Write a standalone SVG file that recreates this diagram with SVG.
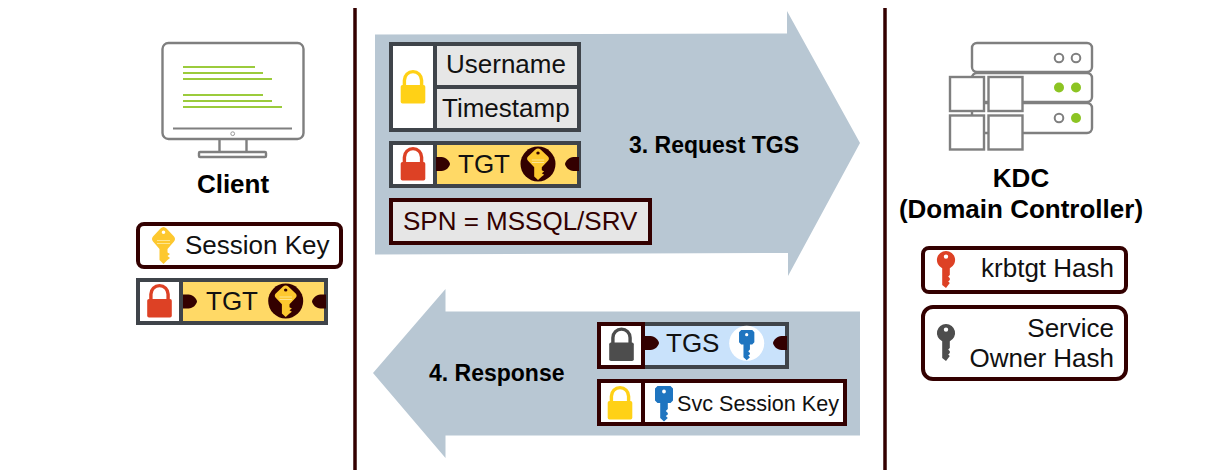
<svg xmlns="http://www.w3.org/2000/svg" width="1218" height="474" viewBox="0 0 1218 474">
<style>
text{font-family:"Liberation Sans",Arial,sans-serif;font-size:26px;fill:#111}
.b{font-weight:bold;fill:#000}
.h{font-size:23px}
.dark{fill:#330000}
.divider{stroke:#330000;stroke-width:3.5;fill:none}
.arrow{fill:#b8c7d3}
.icon{fill:#fff;stroke:#7f7f7f;stroke-width:2.4}
.thin{fill:none;stroke:#7f7f7f;stroke-width:2}
.green{stroke:#9bcb3c;stroke-width:1.8}
.gb{stroke:#3f444a;stroke-width:4}
.db{stroke:#330000;stroke-width:4}
.open{fill:none}
</style>
<defs>
<!-- padlock: origin at the top centre of the shackle -->
<g id="lock">
<path d="M-8.600 17V10.200a8.600 8.600 0 0 1 17.200 0V17" fill="none" stroke="currentColor" stroke-width="3.400"/>
<rect x="-12.300" y="15" width="24.600" height="18.600" rx="1.800" fill="currentColor"/>
</g>
<!-- round-headed key: origin at the top centre of the head -->
<path id="keyRound" d="M0 0a9 9 0 0 1 3.800 17.200V24l-1.600 1.600 1.600 1.600v1.800l-1.600 1.400 1.600 1.600-3.800 5-3.800-3V17.200A9 9 0 0 1 0 0zM0 3.400a2.200 2.200 0 1 0 0 4.400 2.200 2.200 0 0 0 0-4.400z" fill="currentColor" fill-rule="evenodd"/>
<!-- diamond-headed key -->
<g id="keyDiamond">
<path d="M0 0Q1.500 0 3 1.500L10.500 9.500Q12.500 12 10.500 14.500L4 22V25.500L6.500 27 4 29 6.500 31 4 33 0 37-4 33V22L-10.500 14.500Q-12.500 12-10.500 9.500L-3 1.500Q-1.500 0 0 0zM0 3.500a1.800 1.800 0 1 0 0 3.600 1.800 1.800 0 0 0 0-3.600z" fill="#fdc82f" fill-rule="evenodd"/>
<path d="M-6.500 13.500H6.500M-6.500 16.500H6.500" stroke="#fee58f" stroke-width="1.200"/>
</g>
<!-- square-headed key -->
<path id="keySquare" d="M-6.500 0H6.500L9 2.500V14.500L6.500 17H3.800V23L1.800 25 3.800 27V28.500L1.800 30 3.800 32 0 35.500-3.800 32V17H-6.500L-9 14.500V2.500zM0 3.600a1.900 1.900 0 1 0 0 3.800 1.900 1.900 0 0 0 0-3.800z" fill="#1f75c0" fill-rule="evenodd"/>
<!-- ticket notches -->
<path id="notchL" d="M0-7H5.500C10-7 13.500-3 14 0 13.500 3 10 7 5.500 7H0z" class="dark"/>
<path id="notchR" d="M0-7H-5.500C-10-7-13.500-3-14 0-13.500 3-10 7-5.500 7H0z" class="dark"/>
</defs>

<g id="connectors">
<path class="divider" d="M355 8V470"/>
<path class="divider" d="M885 8V470"/>
<polygon id="request-arrow" class="arrow" points="375,34.500 787,33.500 787,11 860,143 788,276 788,253 375,254.500"/>
<polygon id="response-arrow" class="arrow" points="860,311.500 445.500,311.500 445.500,289 373,373 445.500,458 445.500,435.500 860,435.500"/>
</g>

<g id="client">
<rect x="162.500" y="43" width="141" height="96" rx="6" fill="#fff" stroke="#7f7f7f" stroke-width="2.400"/>
<path class="green" d="M183 67H255M183 73H263M183 79H272M183 95H263M183 101H272M183 107H282"/>
<path class="thin" d="M173 128.500H292"/>
<circle cx="232.700" cy="133.700" r="1.900" fill="none" stroke="#999" stroke-width="1"/>
<path class="icon" d="M219.500 139V152M246.500 139V152"/>
<rect x="199" y="152" width="67" height="5" rx="1" class="icon"/>
<text class="b" x="233" y="193" text-anchor="middle">Client</text>
</g>

<g id="client-session-key">
<rect x="138" y="224" width="203" height="43" rx="6" fill="#fff" class="db"/>
<use href="#keyDiamond" x="163.500" y="227"/>
<text x="185" y="254">Session Key</text>
</g>

<g id="client-tgt">
<rect x="138" y="280" width="188" height="43" fill="#ffd966"/>
<rect x="138" y="280" width="43" height="43" fill="#fff"/>
<rect x="138" y="280" width="188" height="43" fill="none" class="gb"/>
<path class="gb open" d="M181 280V323"/>
<use href="#lock" x="159.500" y="284" color="#dd4125"/>
<use href="#notchL" x="183" y="301.500"/>
<use href="#notchR" x="326" y="301.500"/>
<text x="206" y="310">TGT</text>
<circle cx="285.700" cy="301" r="17.500" class="dark"/>
<use href="#keyDiamond" transform="translate(285.700 285.500) scale(.95 .85)"/>
</g>

<g id="auth-block">
<rect x="391" y="44" width="188" height="86" fill="#e6e6e6"/>
<rect x="391" y="44" width="44" height="86" fill="#fff"/>
<rect x="391" y="44" width="188" height="86" fill="none" class="gb"/>
<path class="gb open" d="M435 44V130M435 87H579"/>
<use href="#lock" x="413" y="70" color="#ffd116"/>
<text x="446" y="73">Username</text>
<text x="442" y="117">Timestamp</text>
</g>

<g id="request-tgt">
<rect x="391" y="143" width="188" height="43" fill="#ffd966"/>
<rect x="391" y="143" width="44" height="43" fill="#fff"/>
<rect x="391" y="143" width="188" height="43" fill="none" class="gb"/>
<path class="gb open" d="M435 143V186"/>
<use href="#lock" x="413" y="147" color="#dd4125"/>
<use href="#notchL" x="436" y="164"/>
<use href="#notchR" x="579" y="164"/>
<text x="458" y="173">TGT</text>
<circle cx="538" cy="164" r="17.500" class="dark"/>
<use href="#keyDiamond" transform="translate(538 148.500) scale(.95 .85)"/>
</g>

<g id="spn">
<rect x="391" y="200" width="259" height="43" fill="#e6e6e6" class="db"/>
<text x="403" y="230" style="fill:#330000">SPN = MSSQL/SRV</text>
</g>

<text id="request-label" class="b h" x="629" y="153">3. Request TGS</text>
<text id="response-label" class="b h" x="429" y="381">4. Response</text>

<g id="response-tgs">
<rect x="599" y="324" width="188" height="43" fill="#c9e2fb"/>
<rect x="599" y="324" width="188" height="43" fill="none" class="gb"/>
<rect x="599" y="324" width="44" height="43" fill="#fff" class="db"/>
<use href="#lock" x="621.500" y="327.500" color="#4d4d4d"/>
<use href="#notchL" x="645" y="343"/>
<use href="#notchR" x="787" y="343"/>
<text x="666" y="352">TGS</text>
<circle cx="746.700" cy="343.300" r="17.500" fill="#fff"/>
<use href="#keySquare" transform="translate(746.700 330) scale(.85)"/>
</g>

<g id="response-session-key">
<rect x="599" y="381" width="246" height="43" fill="#fff" class="db"/>
<path class="db open" d="M643 381V424"/>
<use href="#lock" x="620" y="386" color="#ffd116"/>
<use href="#keySquare" x="664" y="386"/>
<text x="677" y="411" style="font-size:21.600px">Svc Session Key</text>
</g>

<g id="kdc">
<rect x="972" y="43" width="120" height="29" rx="5" class="icon"/>
<rect x="972" y="73" width="120" height="29" rx="5" class="icon"/>
<rect x="972" y="103" width="120" height="30" rx="5" class="icon"/>
<circle cx="1059" cy="58" r="4.300" class="thin"/>
<circle cx="1076" cy="58" r="4.300" class="thin"/>
<circle cx="1059" cy="87.500" r="5" fill="#8cc423"/>
<circle cx="1076" cy="87.500" r="5" fill="#8cc423"/>
<circle cx="1059" cy="118" r="4.300" class="thin"/>
<circle cx="1076" cy="118" r="5" fill="#8cc423"/>
<rect x="950" y="77" width="34" height="34" class="icon"/>
<rect x="988.500" y="77" width="34" height="34" class="icon"/>
<rect x="950" y="115.500" width="34" height="34" class="icon"/>
<rect x="988.500" y="115.500" width="34" height="34" class="icon"/>
<text class="b" x="1021" y="187" text-anchor="middle">KDC</text>
<text class="b" x="1021" y="218" text-anchor="middle">(Domain Controller)</text>
</g>

<g id="krbtgt-hash">
<rect x="923" y="248" width="203" height="44" rx="6" fill="#fff" class="db"/>
<use href="#keyRound" x="946" y="251" color="#dd4125"/>
<text x="1114" y="277" text-anchor="end">krbtgt Hash</text>
</g>

<g id="service-owner-hash">
<rect x="923" y="307" width="203" height="72" rx="10" fill="#fff" class="db"/>
<use href="#keyRound" x="946" y="324" color="#4d4d4d"/>
<text x="1114" y="337" text-anchor="end">Service</text>
<text x="1114" y="367" text-anchor="end">Owner Hash</text>
</g>
</svg>
